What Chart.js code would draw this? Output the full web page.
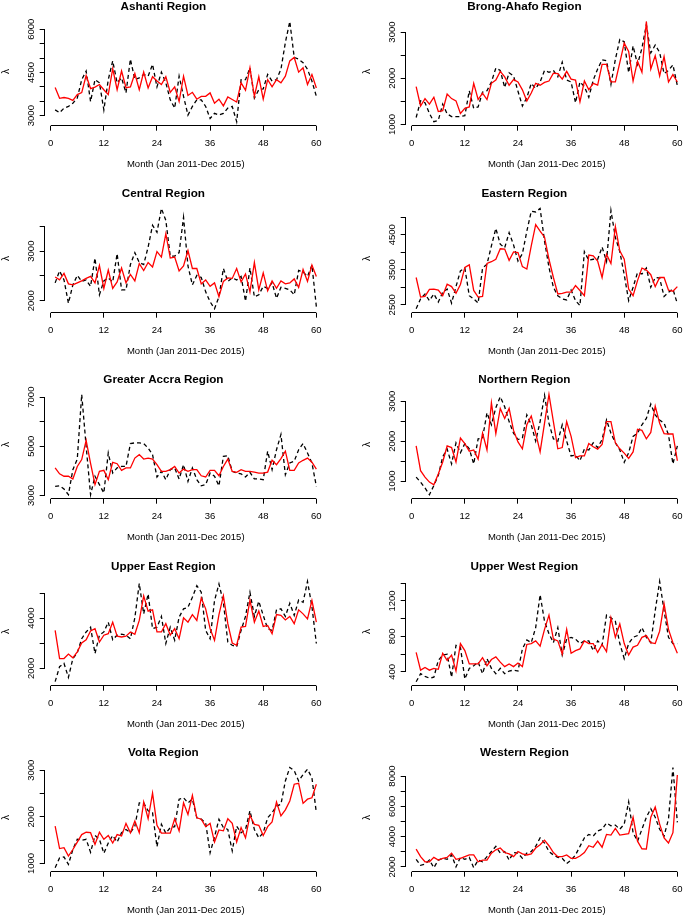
<!DOCTYPE html>
<html><head><meta charset="utf-8">
<script src="https://cdn.jsdelivr.net/npm/chart.js@4.4.1/dist/chart.umd.min.js"></script>
<style>
html,body{margin:0;padding:0;background:#fff;}
#page{position:relative;width:684px;height:919px;overflow:hidden;background:#fff;}
.panel{position:absolute;width:372px;height:187px;}
.panel canvas{display:block;}
</style></head><body><div id="page"></div>
<script>
// ---------- categories / labels ----------
const months = Array.from({length: 60}, (_, i) => i + 1);
const xTicks = [0, 12, 24, 36, 48, 60];
const xTitle = "Month (Jan 2011-Dec 2015)";
const yTitle = "λ";
const regionNames = ["Ashanti Region", "Brong-Ahafo Region", "Central Region", "Eastern Region",
  "Greater Accra Region", "Northern Region", "Upper East Region", "Upper West Region",
  "Volta Region", "Western Region"];

// ---------- series values (red = fitted, black dashed = observed) ----------
const ashantiFit = [3980,3600,3630,3600,3530,3730,3800,4390,3940,3990, 4080,3900,3730,4630,3900,4550,3970,4000,4460,3900,
  4510,3960,4350,4200,4080,4350,3810,4000,3490,4370, 3700,3810,3570,3670,3670,3790,3430,3570,3340,3650,
  3560,3470,4140,3880,4660,3670,4350,3570,4250,4000, 4250,4140,4370,4900,5020,4510,4660,4080,4430,3960];
const ashantiObs = [3200,3100,3260,3320,3430,3610,4250,4550,3490,4250, 4140,3200,4250,4900,4140,4310,3790,4960,4250,4310,
  4430,4370,4780,4000,4510,4140,3550,3260,4370,3670, 3020,3320,3550,3550,3320,2900,3080,3020,3080,3260,
  3320,2790,4250,4250,4660,3610,3900,3930,4430,4200, 4250,4610,5540,6270,5020,4960,4840,4610,4200,3670];

const brongFit = [1820,1400,1560,1440,1590,1280,1300,1660,1560,1510, 1240,1350,1380,1890,1540,1680,1540,1890,1960,2150,
  2030,1850,1970,1920,1750,1510,1680,1890,1850,1910, 1940,2110,2100,1980,2150,1980,1960,1490,1940,1750,
  1890,1850,2300,2300,1920,1920,2340,2760,2580,1940, 2370,2130,3230,2200,2490,2050,2470,1920,2080,1920];
const brongObs = [1150,1510,1470,1240,1060,1090,1440,1230,1170,1170, 1170,1190,1730,1350,1380,1700,1730,1920,2220,2170,
  1800,2120,2050,1720,1400,1580,1890,1780,1920,2170, 2130,2170,2030,2350,1960,1920,1470,1920,1820,1590,
  1960,2200,2400,2380,1870,2410,2840,2790,2120,2700, 2300,2650,3160,2550,2720,2560,2100,2170,2290,1840];

const centralFit = [2480,2420,2550,2340,2320,2360,2400,2450,2490,2360, 2710,2250,2620,2250,2380,2660,2360,2530,2400,2750,
  2610,2770,2680,2990,2880,3350,2860,2880,2600,2700, 3010,2650,2650,2340,2420,2290,2360,2080,2390,2460,
  2450,2650,2380,2540,2180,2770,2220,2560,2200,2400, 2250,2400,2340,2360,2440,2270,2630,2390,2720,2490];
const centralObs = [2360,2600,2420,1950,2320,2510,2390,2420,2290,2860, 2120,2400,2460,2380,2950,2220,2220,2730,2970,2770,
  2730,3080,3520,3380,3860,3620,2900,2900,2970,3680, 2700,2320,2510,2470,2180,1980,1840,2080,2650,2390,
  2460,2420,2490,1990,2660,2080,2120,2290,2250,2360, 2050,2270,2250,2220,2120,2610,2580,2490,2720,1880];

const easternFit = [3280,2720,2740,2940,2950,2920,2760,3090,3020,2830, 3080,3570,3640,2910,2720,2740,3680,3730,3800,4100,
  4090,3770,4010,3990,3590,3520,4180,4790,4600,4430, 3800,3280,2810,2830,2860,2860,3050,2910,2760,3920,
  3900,3750,3280,3940,3680,4730,4040,3800,2950,2760, 3190,3550,3490,3360,3020,3280,3280,2920,2890,3020];
const easternObs = [2390,2670,2810,2620,2810,2580,2860,2950,2550,3020, 3470,3550,2760,2670,2550,3550,3660,4180,4680,4230,
  4130,4560,4210,3750,3960,4600,5170,5150,5250,4320, 3570,3000,2760,2670,2640,2920,2620,2480,4020,3770,
  3800,3800,4150,3740,5190,4420,4020,3360,2620,3000, 3420,3380,3550,3000,3280,3260,2740,2860,2950,2530];

const accraFit = [4120,3880,3780,3780,3670,4180,4460,5240,4300,3440, 3980,4020,3640,4350,4290,4020,4120,4120,4520,4660,
  4480,4520,4480,4250,3980,3980,4050,4180,3910,4070, 3980,4050,4050,3800,3750,4020,4020,3800,4180,4480,
  3980,3940,4050,3980,3980,3950,3910,3910,3950,4430, 4250,4500,4800,4020,4020,4320,4430,4520,4350,4070];
const accraObs = [3370,3390,3260,3030,4050,4480,7110,5000,3030,3780, 3440,3100,4730,3910,4120,4180,4180,5110,5140,5140,
  5110,4930,4660,3750,3980,3640,4050,4120,3670,4250, 3570,4120,3640,3390,3440,3910,3780,3390,4590,4620,
  3980,3910,3880,3750,3940,3670,3670,3640,4800,4050, 4860,5480,3840,4320,4390,4860,5110,4730,4320,3370];

const northernFit = [1880,1260,1100,975,910,1180,1480,1880,1840,1480, 2080,1940,1750,1780,1550,2200,1780,2960,2190,2820,
  2570,2820,2270,1980,1810,2410,2630,2200,1730,2450, 3170,2490,1810,1840,2490,2120,1590,1630,1630,1940,
  1860,1800,1920,2490,2490,1960,1810,1700,1570,1730, 2300,2270,2060,2220,2880,2450,2190,2180,2180,1510];
const northernObs = [1100,975,830,660,890,1140,1610,1800,1430,1960, 1710,1940,1810,1430,2060,2080,2710,2410,2840,3110,
  2860,2490,2200,2040,2080,2660,2410,2000,2490,3150, 2450,2060,2000,2410,2000,1630,1650,1510,1800,1780,
  1960,1840,2040,2530,2200,1960,1780,1470,1710,2120, 2200,2410,2570,2930,2660,2530,2450,2160,1430,1880];

const upperEastFit = [3510,2390,2390,2570,2420,2660,3010,3140,3490,3580, 3050,3320,3380,3840,3280,3250,3280,3450,3360,3910,
  4890,4280,4330,3450,3450,3780,3320,3580,3180,4010, 3840,4140,3910,4800,4370,3580,3120,4140,4890,3780,
  3010,2920,3640,3670,4720,3840,4280,3670,3710,3380, 4140,4110,3930,4070,3780,4330,4170,3970,4700,3840];
const upperEastObs = [1470,2070,2200,1640,2390,2620,3180,3450,3640,2590, 3320,3450,3840,3140,3320,3360,3320,3180,4010,5380,
  4170,4960,3580,3640,4070,2990,3640,3120,4040,4370, 4430,4830,5290,5030,3510,3180,4700,5360,4630,3050,
  2920,2860,3510,4070,5030,4070,4670,4110,3580,3510, 4330,4370,4070,4590,4110,4720,4630,5460,4460,2990];

const upperWestFit = [620,420,450,420,440,430,610,530,590,410, 720,640,490,490,490,560,470,540,570,510,
  460,490,460,500,460,710,720,750,690,880, 1040,770,750,600,880,610,640,660,750,720,
  720,620,710,630,1010,790,940,720,590,680, 700,790,810,730,720,860,1170,880,730,610];
const upperWestObs = [290,380,350,330,340,530,590,600,340,700, 680,320,440,470,510,380,550,440,380,440,
  380,410,420,410,660,760,730,900,1270,970, 830,730,900,590,770,790,770,720,750,750,
  640,750,700,1040,1010,970,720,550,720,790, 810,900,790,730,1090,1420,1090,790,720,720];

const voltaFit = [1800,1320,1340,1160,1300,1460,1620,1670,1660,1410, 1670,1520,1600,1440,1620,1590,1860,1660,1910,1660,
  2320,1960,2510,1820,1650,1650,1650,1960,1700,2300, 2050,2460,1980,1950,1790,1860,1460,1720,1700,1960,
  1860,1460,1770,1550,2030,1840,1820,1600,1790,1890, 2320,2020,2150,2340,2700,2720,2290,2380,2410,2700];
const voltaObs = [910,1120,1140,980,1300,1520,1500,1520,1240,1600, 1520,1220,1440,1600,1460,1660,1730,1660,1800,2300,
  2300,2130,2090,1360,1840,1650,1770,1790,2380,2410, 2300,2380,1980,1950,1870,1230,1570,1950,1770,1730,
  1270,1800,1660,1730,2130,1730,1550,1660,1980,2090, 2230,2270,2770,3060,2990,2770,2910,3020,2840,2090];

const westernFit = [3180,2680,2340,2340,2630,2450,2570,2630,2910,2500, 2570,2680,2790,2790,2340,2450,2450,2910,3130,3250,
  2950,2860,2680,3020,2860,2790,2860,3250,3470,3770, 3400,2950,2680,2680,2790,2570,2570,2720,2950,3400,
  3300,3700,3300,4150,4100,4550,4100,4150,4200,5280, 3700,3200,3180,5280,5960,4830,3920,3580,4260,8070];
const westernObs = [2500,2110,2180,2450,1950,2450,2570,2500,2790,2000, 2630,2500,2630,1950,2450,2340,2680,3020,3360,2910,
  3020,2450,2950,2910,2570,2910,3020,3360,3920,3580, 3020,2790,2630,2570,2230,2450,2790,3360,3920,4150,
  4040,4380,4490,4900,4720,4760,4490,4830,6300,4260, 3700,4490,5280,5850,5280,4490,4040,5170,8570,4940];

// ---------- y tick values and labelled ticks ----------
const ashantiTicks = [3000,3500,4000,4500,5000,5500,6000], ashantiLabels = [3000,4500,6000];
const brongTicks = [1000,1500,2000,2500,3000], brongLabels = [1000,2000,3000];
const centralTicks = [2000,2500,3000,3500], centralLabels = [2000,3000];
const easternTicks = [2500,3000,3500,4000,4500,5000], easternLabels = [2500,3500,4500];
const accraTicks = [3000,4000,5000,6000,7000], accraLabels = [3000,5000,7000];
const northernTicks = [1000,1500,2000,2500,3000], northernLabels = [1000,2000,3000];
const upperEastTicks = [2000,3000,4000,5000], upperEastLabels = [2000,4000];
const upperWestTicks = [400,600,800,1000,1200,1400], upperWestLabels = [400,800,1200];
const voltaTicks = [1000,1500,2000,2500,3000], voltaLabels = [1000,2000,3000];
const westernTicks = [2000,3000,4000,5000,6000,7000,8000], westernLabels = [2000,4000,6000,8000];

const panels = [
  [ashantiFit, ashantiObs, ashantiTicks, ashantiLabels],
  [brongFit, brongObs, brongTicks, brongLabels],
  [centralFit, centralObs, centralTicks, centralLabels],
  [easternFit, easternObs, easternTicks, easternLabels],
  [accraFit, accraObs, accraTicks, accraLabels],
  [northernFit, northernObs, northernTicks, northernLabels],
  [upperEastFit, upperEastObs, upperEastTicks, upperEastLabels],
  [upperWestFit, upperWestObs, upperWestTicks, upperWestLabels],
  [voltaFit, voltaObs, voltaTicks, voltaLabels],
  [westernFit, westernObs, westernTicks, westernLabels]
];
panels.forEach((p, i) => { if (p[0].length !== 60 || p[1].length !== 60) throw new Error('length ' + regionNames[i] + ' ' + p[0].length + ' ' + p[1].length); });

// ---------- drawing ----------
const FONT = "'Liberation Sans', Arial, Helvetica, sans-serif";
const alignPx = v => Math.round(v - 0.5) + 0.5;
const rAxes = {
  id: 'rAxes',
  afterDraw(chart) {
    const {ctx, chartArea, scales: {x, y}} = chart;
    ctx.save();
    ctx.strokeStyle = '#000'; ctx.lineWidth = 1;
    ctx.beginPath();
    const by = alignPx(chartArea.bottom);
    ctx.moveTo(x.getPixelForValue(x.ticks[0].value), by);
    ctx.lineTo(x.getPixelForValue(x.ticks[x.ticks.length - 1].value), by);
    const lx = alignPx(chartArea.left);
    ctx.moveTo(lx, y.getPixelForValue(y.ticks[0].value));
    ctx.lineTo(lx, y.getPixelForValue(y.ticks[y.ticks.length - 1].value));
    ctx.stroke();
    ctx.restore();
  }
};

const page = document.getElementById('page');
const xLo = months[0] - 0.04 * (months[59] - months[0]);
const xHi = months[59] + 0.04 * (months[59] - months[0]);

panels.forEach((p, i) => {
  const [fit, obs, ticks, labels] = p;
  const col = i % 2, row = Math.floor(i / 2);
  const div = document.createElement('div');
  div.className = 'panel';
  div.style.left = (col * 360.6) + 'px';
  div.style.top = (-13 + row * 186.6) + 'px';
  const cv = document.createElement('canvas');
  cv.width = 372; cv.height = 187;
  div.appendChild(cv);
  page.appendChild(div);

  const all = fit.concat(obs);
  const mn = Math.min(...all), mx = Math.max(...all);
  const rg = mx - mn;

  new Chart(cv, {
    type: 'line',
    data: {
      datasets: [
        {data: fit.map((v, k) => ({x: months[k], y: v})), borderColor: '#ff0000', borderWidth: 1.3,
         pointRadius: 0, tension: 0, fill: false},
        {data: obs.map((v, k) => ({x: months[k], y: v})), borderColor: '#000000', borderWidth: 1.3,
         borderDash: [4, 3], pointRadius: 0, tension: 0, fill: false}
      ]
    },
    options: {
      responsive: false, animation: false, devicePixelRatio: 1,
      layout: {padding: {left: 0, right: 45.2, top: 0, bottom: 0}},
      plugins: {
        legend: {display: false}, tooltip: {enabled: false},
        title: {display: true, text: regionNames[i], color: '#000',
          font: {family: FONT, size: 11.7, weight: 'bold'}, padding: {top: 12.8, bottom: 3.6}}
      },
      scales: {
        x: {
          type: 'linear', min: xLo, max: xHi,
          afterBuildTicks: s => { s.ticks = xTicks.map(v => ({value: v})); },
          afterFit: s => { s.height = 48.3; s.paddingLeft = 0; s.paddingRight = 0; },
          ticks: {autoSkip: false, maxRotation: 0, padding: 7, color: '#000',
            font: {family: FONT, size: 9.5}, callback: v => String(v)},
          grid: {display: true, drawOnChartArea: false, drawTicks: true, tickLength: 5, color: '#000', lineWidth: 1},
          border: {display: false},
          title: {display: true, text: xTitle, color: '#000', font: {family: FONT, size: 9.5},
            padding: {top: 0, bottom: 3.6}}
        },
        y: {
          type: 'linear', min: mn - 0.04 * rg, max: mx + 0.04 * rg,
          afterBuildTicks: s => { s.ticks = ticks.map(v => ({value: v})); },
          afterFit: s => { s.width = 44.7; s.paddingTop = 0; s.paddingBottom = 0; },
          ticks: {autoSkip: false, minRotation: 90, maxRotation: 90, crossAlign: 'center', padding: -2,
            color: '#000', font: {family: FONT, size: 9.5},
            callback: v => labels.includes(v) ? String(v) : ''},
          grid: {display: true, drawOnChartArea: false, drawTicks: true, tickLength: 5, color: '#000', lineWidth: 1},
          border: {display: false},
          title: {display: true, text: yTitle, color: '#000', font: {family: FONT, size: 10},
            padding: {top: 0.5, bottom: 0}}
        }
      }
    },
    plugins: [rAxes]
  });
});
</script>
</body></html>
